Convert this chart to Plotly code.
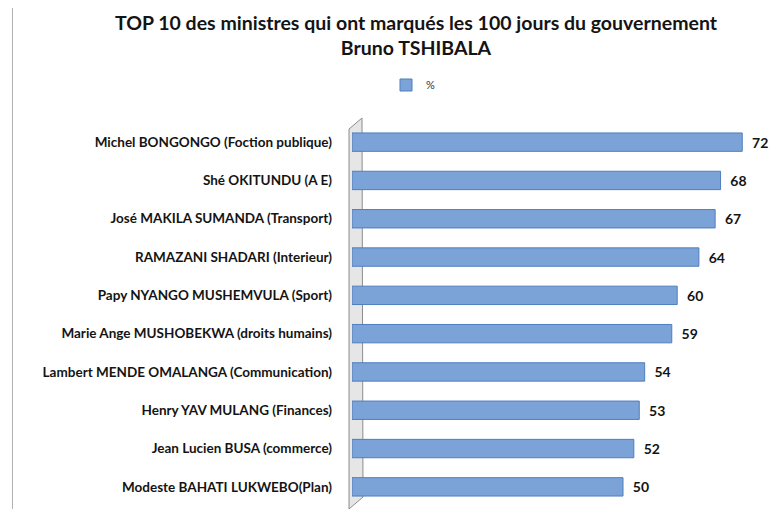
import plotly.graph_objects as go

ministers = [
    "Michel BONGONGO (Foction publique)",
    "Shé OKITUNDU (A E)",
    "José MAKILA SUMANDA (Transport)",
    "RAMAZANI SHADARI (Interieur)",
    "Papy NYANGO MUSHEMVULA (Sport)",
    "Marie Ange MUSHOBEKWA (droits humains)",
    "Lambert MENDE OMALANGA (Communication)",
    "Henry YAV MULANG (Finances)",
    "Jean Lucien BUSA (commerce)",
    "Modeste BAHATI LUKWEBO(Plan)",
]
pct = [72, 68, 67, 64, 60, 59, 54, 53, 52, 50]
series_name = "%"
title_text = "TOP 10 des ministres qui ont marqués les 100 jours du gouvernement<br>Bruno TSHIBALA"

# The page body has an 8px default margin; work in reference pixels and offset.
OFF = 8
W, H = 778 - OFF, 509 - OFF
ML, MR, MT, MB = 352 - OFF, 8, 123 - OFF, 3
PW = W - ML - MR
PH = H - MT - MB

def px(x):
    """reference pixel x -> paper x"""
    return (x - OFF - ML) / PW

def py(y):
    """reference pixel y -> paper y"""
    return 1 - (y - OFF - MT) / PH

font_family = "Lato, 'Open Sans', sans-serif"
txt = "#141414"

fig = go.Figure()
fig.add_trace(go.Bar(
    y=ministers,
    x=pct,
    orientation="h",
    name=series_name,
    marker=dict(color="#7CA3D7", line=dict(color="#4E7EBE", width=1)),
    text=[f"  {v}" for v in pct],
    textposition="outside",
    cliponaxis=False,
    textfont=dict(family=font_family, size=14, color=txt, weight="bold"),
    showlegend=True,
))

# 3D side wall (decorative)
wall = [(349, 129), (362, 118), (363, 497), (349, 509)]
path = "M " + " L ".join(f"{px(x)},{py(y)}" for x, y in wall) + " Z"
shapes = [
    dict(type="path", path=path, xref="paper", yref="paper",
         fillcolor="#e6e6e6", line=dict(color="#8c8c8c", width=1), layer="below"),
    dict(type="line", xref="paper", yref="paper",
         x0=px(12.5), x1=px(12.5), y0=py(0), y1=py(509),
         line=dict(color="#b0b0b0", width=1)),
]

fig.update_layout(
    width=W, height=H,
    margin=dict(l=ML, r=MR, t=MT, b=MB, autoexpand=False),
    paper_bgcolor="white",
    plot_bgcolor="white",
    bargap=0.52,
    shapes=shapes,
    annotations=[dict(
        text=title_text, xref="paper", yref="paper",
        x=px(416), y=py(9), xanchor="center", yanchor="top",
        showarrow=False, align="center",
        font=dict(family=font_family, size=19.5, color=txt, weight="bold"),
    )],
    legend=dict(
        orientation="h", xref="container", yref="container",
        x=(386 - OFF) / W, xanchor="left", y=1 - (85 - OFF) / H, yanchor="middle",
        font=dict(family=font_family, size=11, color="#333"),
        itemwidth=30,
    ),
    xaxis=dict(range=[0, PW / 5.42], visible=False, showgrid=False,
               zeroline=False, automargin=False),
    yaxis=dict(
        autorange="reversed", showgrid=False, zeroline=False, showline=False,
        ticks="", ticklabelstandoff=19, automargin=False,
        tickfont=dict(family=font_family, size=13.5, color=txt, weight="bold"),
    ),
    font=dict(family=font_family),
)

fig.write_html("out.html")
